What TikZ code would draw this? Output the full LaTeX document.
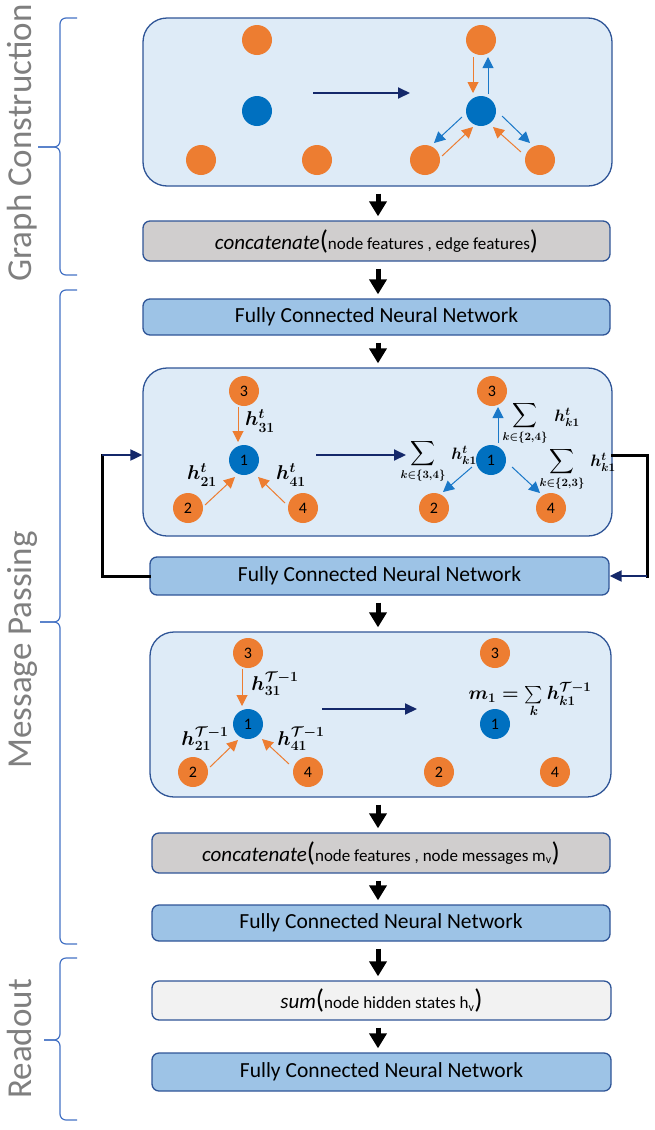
\RequirePackage{fix-cm}
\documentclass[tikz,border=0pt]{standalone}
\usepackage{amsmath,bm,exscale}
\usepackage[no-math]{fontspec}
\setmainfont{Carlito}
\usetikzlibrary{arrows.meta,calc}
\definecolor{panelfill}{HTML}{DEEBF7}
\definecolor{panelline}{HTML}{2F5597}
\definecolor{fcnnfill}{HTML}{9DC3E6}
\definecolor{concatfill}{HTML}{D0CECE}
\definecolor{sumfill}{HTML}{F2F2F2}
\definecolor{cOrange}{HTML}{ED7D31}
\definecolor{cBlue}{HTML}{0070C0}
\definecolor{cBlueArr}{HTML}{1A78C8}
\definecolor{cNavy}{HTML}{14286A}
\definecolor{cBrace}{HTML}{4472C4}
\definecolor{cSide}{HTML}{7F7F7F}
\tikzset{
  panel/.style={draw=panelline, line width=1.3pt, fill=panelfill, rounded corners=24pt, inner sep=0pt},
  boxbase/.style={draw=panelline, line width=1.3pt, rounded corners=7pt, inner sep=0pt},
  fcnn/.style={boxbase, fill=fcnnfill, font=\fontsize{21.5}{24}\selectfont},
  concat/.style={boxbase, fill=concatfill},
  sumbox/.style={boxbase, fill=sumfill},
  onode/.style={circle, fill=cOrange, minimum size=30pt, inner sep=0pt, font=\fontsize{16}{18}\selectfont},
  bnode/.style={circle, fill=cBlue, minimum size=30pt, inner sep=0pt, font=\fontsize{16}{18}\selectfont},
  bigarrow/.style={line width=5pt, -{Triangle[width=17pt,length=15pt]}, shorten <=7pt, shorten >=4pt},
  navyarr/.style={draw=cNavy, line width=2pt, -{Triangle[width=11pt,length=12pt]}},
  loopk/.style={draw=black, line width=3pt, line cap=rect},
  oarr/.style={draw=cOrange, line width=1pt, -{Triangle[width=11pt,length=11pt]}},
  barr/.style={draw=cBlueArr, line width=1pt, -{Triangle[width=11pt,length=11pt]}},
  lab/.style={inner sep=0pt, font=\fontsize{20}{24}\selectfont\boldmath},
  slab/.style={inner sep=0pt, font=\fontsize{16.5}{19}\selectfont\boldmath},
  sumlab/.style={inner sep=0pt, font=\fontsize{16}{19}\selectfont\boldmath},
  mlab/.style={inner sep=0pt, font=\fontsize{19}{23}\selectfont\boldmath},
  side/.style={inner sep=0pt, text=cSide, font=\fontsize{35}{40}\selectfont, rotate=90, anchor=base},
  brace/.style={draw=cBrace, line width=1.2pt, rounded corners=6pt}
}
\newcommand{\bigp}[1]{{\fontsize{27}{30}\selectfont #1}}
\newcommand{\smallt}[1]{{\fontsize{17}{20}\selectfont #1}}
\newcommand{\itt}[1]{{\fontsize{21}{24}\selectfont\itshape #1}}
\begin{document}
\begin{tikzpicture}[x=1pt,y=-1pt]
\useasboundingbox (0,0) rectangle (655,1130);
\coordinate (ax) at (378,0);

% side labels and braces
\node[side] (tGC) at (31,143) {Graph Construction};
\node[side] (tMP) at (31,650) {Message Passing};
\node[side] (tRO) at (31,1039) {Readout};
\draw[brace] (77,18) -- (60,18) -- (60,147) -- (38,147);
\draw[brace] (77,275) -- (60,275) -- (60,147) -- (38,147);
\draw[brace] (77,290) -- (60,290) -- (60,622) -- (40,622);
\draw[brace] (77,944) -- (60,944) -- (60,622) -- (40,622);
\draw[brace] (77,958) -- (60,958) -- (60,1040) -- (44,1040);
\draw[brace] (77,1120) -- (60,1120) -- (60,1040) -- (44,1040);

% main boxes
\node[panel, minimum width=469pt, minimum height=168pt] (P1) at (377.5,102) {};
\node[concat, minimum width=467pt, minimum height=40pt] (K1) at (376.5,241)
  {\itt{concatenate}\bigp{(}\smallt{node features , edge features}\bigp{)}};
\node[fcnn, minimum width=467pt, minimum height=36pt] (F1) at (376.5,317) {Fully Connected Neural Network};
\node[panel, minimum width=469pt, minimum height=168pt] (P2) at (377.5,452) {};
\node[fcnn, minimum width=459pt, minimum height=38pt] (F2) at (379.5,576) {Fully Connected Neural Network};
\node[panel, minimum width=461pt, minimum height=165pt] (P3) at (380.5,714.5) {};
\node[concat, minimum width=458pt, minimum height=40pt] (K2) at (381,853)
  {\itt{concatenate}\bigp{(}\smallt{node features , node messages m\textsubscript{v}}\bigp{)}};
\node[fcnn, minimum width=458pt, minimum height=36pt] (F3) at (381,923) {Fully Connected Neural Network};
\node[sumbox, minimum width=459pt, minimum height=39pt] (S1) at (381.5,1000.5)
  {\itt{sum}\bigp{(}\smallt{node hidden states h\textsubscript{v}}\bigp{)}};
\node[fcnn, minimum width=459pt, minimum height=38pt] (F4) at (381.5,1072) {Fully Connected Neural Network};

\foreach \a/\b in {P1/K1,K1/F1,F1/P2,F2/P3,P3/K2,K2/F3,F3/S1,S1/F4}
  \draw[bigarrow] (\a.south -| ax) -- (\b.north -| ax);

% feedback loop
\coordinate (lc) at (102,455);
\coordinate (rc) at (647,455);
\coordinate (rb) at (647,576);
\draw[loopk] (F2.west) -| (lc);
\draw[navyarr] (lc) -- (lc -| P2.west);
\draw[loopk] (rc -| P2.east) -- (rc) -- (rb);
\draw[navyarr] (rb) -- (F2.east);

% ---------- panel 1 ----------
\node[onode] (L3) at (257,40) {};
\node[bnode] (L1) at (257,111) {};
\node[onode] (La) at (201,160) {};
\node[onode] (Lb) at (317,160) {};
\node[onode] (R3) at (481,40) {};
\node[bnode] (R1) at (481,111) {};
\node[onode] (Ra) at (425,160) {};
\node[onode] (Rb) at (540,160) {};
\coordinate (t1s) at (313,93);
\coordinate (t1e) at (410,93);
\draw[navyarr] (t1s) -- (t1e);
\draw[oarr] ([shift={(-8,17)}]R3.center) -- ([shift={(-8,-18)}]R1.center);
\draw[barr] ([shift={(7,-17)}]R1.center) -- ([shift={(7,17)}]R3.center);
\draw[barr] ([shift={(-19,6)}]R1.center) -- ([shift={(9,-17)}]Ra.center);
\draw[oarr] ([shift={(17,-4)}]Ra.center) -- ([shift={(-8,16)}]R1.center);
\draw[barr] ([shift={(21,5)}]R1.center) -- ([shift={(-10,-17)}]Rb.center);
\draw[oarr] ([shift={(-19,-8)}]Rb.center) -- ([shift={(12,16)}]R1.center);

% ---------- panel 2 ----------
\node[onode] (A3) at (244,391) {3};
\node[bnode] (A1) at (244,460) {1};
\node[onode] (A2) at (188,508) {2};
\node[onode] (A4) at (303,508) {4};
\node[onode] (B3) at (492,391) {3};
\node[bnode] (B1) at (491,460) {1};
\node[onode] (B2) at (434,508) {2};
\node[onode] (B4) at (551,508) {4};
\draw[oarr] ([shift={(-6,16)}]A3.center) -- ([shift={(-6,-18)}]A1.center);
\draw[oarr] ([shift={(17,-3)}]A2.center) -- ([shift={(-9,17)}]A1.center);
\draw[oarr] ([shift={(-18,-5)}]A4.center) -- ([shift={(14,17)}]A1.center);
\draw[barr] ([shift={(7,-17)}]B1.center) -- ([shift={(6,16)}]B3.center);
\draw[barr] ([shift={(-19,7)}]B1.center) -- ([shift={(9,-16)}]B2.center);
\draw[barr] ([shift={(21,7)}]B1.center) -- ([shift={(-11,-15)}]B4.center);
\coordinate (t2s) at (316,455);
\coordinate (t2e) at (406,455);
\draw[navyarr] (t2s) -- (t2e);
\node[lab] (h31) at (260,421) {$h^{t}_{31}$};
\node[lab] (h21) at (202,475) {$h^{t}_{21}$};
\node[lab] (h41) at (291,475) {$h^{t}_{41}$};
\node[sumlab] (s34) at (423,461) {$\displaystyle\sum_{k\in\{3,4\}}$};
\node[slab] (hk1a) at (464,455) {$h^{t}_{k1}$};
\node[sumlab] (s24) at (525,423) {$\displaystyle\sum_{k\in\{2,4\}}$};
\node[slab] (hk1b) at (567,417) {$h^{t}_{k1}$};
\node[sumlab] (s23) at (562,469) {$\displaystyle\sum_{k\in\{2,3\}}$};
\node[slab] (hk1c) at (603,462) {$h^{t}_{k1}$};

% ---------- panel 3 ----------
\node[onode] (C3) at (248,653) {3};
\node[bnode] (C1) at (248,724) {1};
\node[onode] (C2) at (193,772) {2};
\node[onode] (C4) at (308,772) {4};
\node[onode] (D3) at (495,653) {3};
\node[bnode] (D1) at (495,724) {1};
\node[onode] (D2) at (439,772) {2};
\node[onode] (D4) at (555,772) {4};
\draw[oarr] ([shift={(-6,16)}]C3.center) -- ([shift={(-6,-18)}]C1.center);
\draw[oarr] ([shift={(17,-5)}]C2.center) -- ([shift={(-10,16)}]C1.center);
\draw[oarr] ([shift={(-19,-8)}]C4.center) -- ([shift={(14,15)}]C1.center);
\coordinate (t3s) at (322,709);
\coordinate (t3e) at (417,709);
\draw[navyarr] (t3s) -- (t3e);
\node[lab] (g31) at (275,684) {$h^{\mathcal{T}-1}_{31}$};
\node[lab] (g21) at (205,739) {$h^{\mathcal{T}-1}_{21}$};
\node[lab] (g41) at (301,739) {$h^{\mathcal{T}-1}_{41}$};
\node[mlab] (m1) at (530,700) {$m_1=\sum\limits_{k} h^{\mathcal{T}-1}_{k1}$};
\end{tikzpicture}
\end{document}
